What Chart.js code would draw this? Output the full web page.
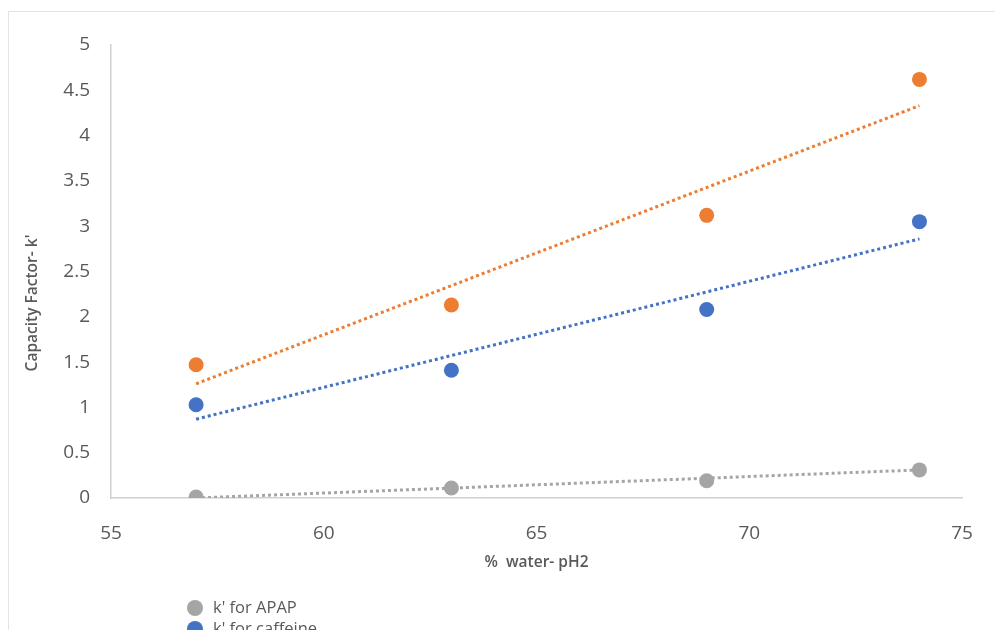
<!DOCTYPE html>
<html>
<head>
<meta charset="utf-8">
<script src="https://cdn.jsdelivr.net/npm/chart.js@4/dist/chart.umd.min.js"></script>
<style>
  html, body { margin: 0; padding: 0; background: #fff; overflow: hidden; }
  #wrap { position: relative; width: 995px; height: 630px; overflow: hidden; }
  #frame { position: absolute; left: 8px; top: 11px; width: 1100px; height: 800px; border: 1px solid #e3e3e3; }
  #grafico { position: absolute; left: 0; top: 0; }
  #legenda { position: absolute; left: 187px; top: 596px; margin: 0; padding: 0; list-style: none;
    font: 16.5px "Open Sans", sans-serif; color: #595959; }
  #legenda li { height: 21px; line-height: 21px; white-space: nowrap; }
  #legenda i { display: inline-block; width: 16px; height: 16px; border-radius: 50%; vertical-align: -3px; margin-right: 10px; }
</style>
</head>
<body>
<div id="wrap">
  <div id="frame"></div>
  <canvas id="grafico" width="995" height="630"></canvas>
  <ul id="legenda"></ul>
</div>
<script>
// % de água na fase móvel (pH 2)
var aguaPct = [57, 63, 69, 74];
var kApap = [0.01, 0.11, 0.19, 0.31];
var kCafeina = [1.03, 1.41, 2.08, 3.05];
var kAspirina = [1.47, 2.13, 3.12, 4.62];

// linhas de tendência (nas extremidades)
var tendX = [57, 74];
var tendApap = [0.00, 0.31];
var tendCafeina = [0.87, 2.86];
var tendAspirina = [1.26, 4.33];

var rotulos = ["k' for APAP", "k' for caffeine", "k' for aspirin"];
var ticksY = ["0", "0.5", "1", "1.5", "2", "2.5", "3", "3.5", "4", "4.5", "5"];
var ticksX = ["55", "60", "65", "70", "75"];

var CORES = { cinza: "#a5a5a5", azul: "#4472c4", laranja: "#ed7d31" };
var TEXTO = "#595959";

function pontos(xs, ys) {
  return xs.map(function (x, i) { return { x: x, y: ys[i] }; });
}
function serie(rotulo, ys, cor) {
  return { type: "scatter", label: rotulo, data: pontos(aguaPct, ys), backgroundColor: cor,
    borderColor: cor, borderWidth: 0, pointRadius: 7.5, pointHoverRadius: 7.5, order: 1 };
}
function tendencia(ys, cor) {
  return { type: "line", label: "", data: pontos(tendX, ys), borderColor: cor, borderWidth: 3,
    borderDash: [3, 3], pointRadius: 0, fill: false, order: 2 };
}

// título do eixo Y desenhado à mão (no Excel ele fica um pouco abaixo do centro)
var tituloY = {
  id: "tituloY",
  afterDraw: function (chart) {
    var ctx = chart.ctx;
    ctx.save();
    ctx.translate(33, 303);
    ctx.rotate(-Math.PI / 2);
    ctx.font = "600 15.5px 'Open Sans', sans-serif";
    ctx.fillStyle = TEXTO;
    ctx.textAlign = "center";
    ctx.textBaseline = "middle";
    ctx.fillText("Capacity Factor- k'", 0, 0);
    ctx.restore();
  }
};

var fonteTick = { family: "'Open Sans', sans-serif", size: 19 };

new Chart(document.getElementById("grafico"), {
  type: "scatter",
  data: {
    datasets: [
      serie(rotulos[0], kApap, CORES.cinza),
      serie(rotulos[1], kCafeina, CORES.azul),
      serie(rotulos[2], kAspirina, CORES.laranja),
      tendencia(tendApap, CORES.cinza),
      tendencia(tendCafeina, CORES.azul),
      tendencia(tendAspirina, CORES.laranja)
    ]
  },
  options: {
    responsive: false,
    animation: false,
    layout: { padding: { left: 0, right: 33, top: 45, bottom: 42 } },
    plugins: { legend: { display: false }, tooltip: { enabled: false } },
    scales: {
      x: {
        type: "linear", min: 55, max: 75,
        afterFit: function (s) { s.height = 90; },
        grid: { display: false },
        border: { display: true, color: "#d0d0d0", width: 1.5 },
        ticks: { stepSize: 5, padding: 16, color: TEXTO, font: fonteTick,
          callback: function (v, i) { return ticksX[i]; } },
        title: { display: true, text: "%  water- pH2", color: TEXTO,
          font: { family: "'Open Sans', sans-serif", size: 15.5, weight: "600" },
          padding: { top: 0, bottom: 16 } }
      },
      y: {
        type: "linear", min: 0, max: 5,
        afterFit: function (s) { s.width = 111; },
        grid: { display: false },
        border: { display: true, color: "#d0d0d0", width: 1.5 },
        ticks: { stepSize: 0.5, padding: 13, color: TEXTO, font: fonteTick,
          callback: function (v, i) { return ticksY[i]; } }
      }
    }
  },
  plugins: [tituloY]
});

// legenda em HTML, no canto inferior (cortada pela borda como no original)
var lista = document.getElementById("legenda");
[CORES.cinza, CORES.azul, CORES.laranja].forEach(function (cor, i) {
  var li = document.createElement("li");
  li.innerHTML = '<i style="background:' + cor + '"></i>' + rotulos[i];
  lista.appendChild(li);
});
</script>
</body>
</html>
